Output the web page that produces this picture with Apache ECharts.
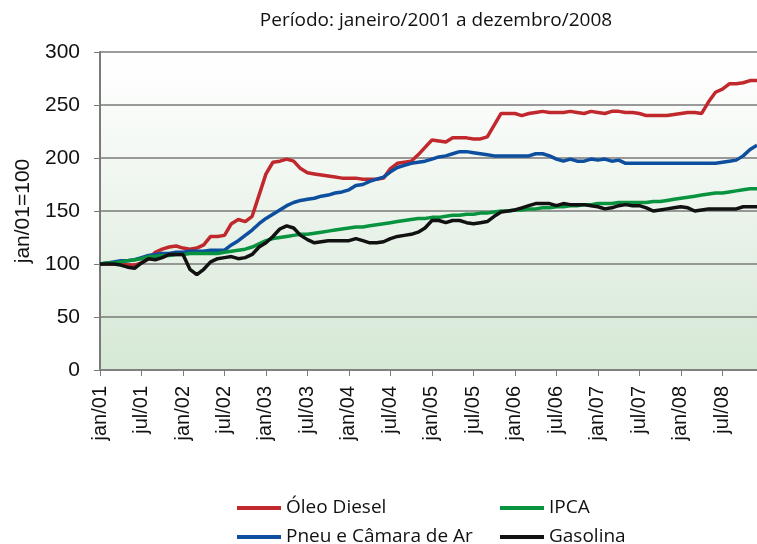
<!DOCTYPE html>
<html>
<head>
<meta charset="utf-8">
<script src="https://cdn.jsdelivr.net/npm/echarts@6/dist/echarts.min.js"></script>
<style>
html,body{margin:0;padding:0;background:#fff;}
#chart{width:757px;height:544px;}
</style>
</head>
<body>
<div id="chart"></div>
<script>
// Monthly categories jan/01 .. dez/08
const monthNames = ['jan','fev','mar','abr','mai','jun','jul','ago','set','out','nov','dez'];
const years = ['01','02','03','04','05','06','07','08'];
const categories = [];
years.forEach(y => monthNames.forEach(m => categories.push(m + '/' + y)));

const titleText = 'Período: janeiro/2001 a dezembro/2008';
const yAxisName = 'jan/01=100';
const seriesNames = ['Óleo Diesel', 'Pneu e Câmara de Ar', 'IPCA', 'Gasolina'];

const oleoDiesel = [
  100,100,100,100,99,99,101,105,111,114,116,117,
  115,114,115,118,126,126,127,138,142,140,145,165,
  185,196,197,199,197,190,186,185,184,183,182,181,
  181,181,180,180,180,181,190,195,196,197,203,210,
  217,216,215,219,219,219,218,218,220,231,242,242,
  242,240,242,243,244,243,243,243,244,243,242,244,
  243,242,244,244,243,243,242,240,240,240,240,241,
  242,243,243,242,253,262,265,270,270,271,273,273
];
const pneuCamara = [
  100,101,102,103,103,104,106,108,109,110,110,111,
  111,112,112,112,113,113,113,118,122,127,132,138,
  143,147,151,155,158,160,161,162,164,165,167,168,
  170,174,175,178,180,182,187,191,193,195,196,197,
  199,201,202,204,206,206,205,204,203,202,202,202,
  202,202,202,204,204,202,199,197,199,197,197,199,
  198,199,197,198,195,195,195,195,195,195,195,195,
  195,195,195,195,195,195,196,197,198,202,208,212
];
const ipca = [
  100,101,101,102,103,104,105,107,107,108,108,109,
  109,110,110,110,110,110,111,112,113,114,116,119,
  122,124,125,126,127,128,128,129,130,131,132,133,
  134,135,135,136,137,138,139,140,141,142,143,143,
  144,144,145,146,146,147,147,148,148,149,150,150,
  151,151,152,152,153,153,154,154,155,155,156,156,
  157,157,157,158,158,158,158,158,159,159,160,161,
  162,163,164,165,166,167,167,168,169,170,171,171
];
const gasolina = [
  100,100,100,99,97,96,101,105,104,106,109,109,
  109,95,90,95,102,105,106,107,105,106,109,116,
  120,126,133,136,134,127,123,120,121,122,122,122,
  122,124,122,120,120,121,124,126,127,128,130,134,
  141,141,139,141,141,139,138,139,140,145,149,150,
  151,153,155,157,157,157,155,157,156,156,156,155,
  154,152,153,155,156,155,155,153,150,151,152,153,
  154,153,150,151,152,152,152,152,152,154,154,154
];
const yTicks = [0, 50, 100, 150, 200, 250, 300];
const colors = ['#c1282d', '#0d4f9e', '#08943f', '#111111'];

const chart = echarts.init(document.getElementById('chart'), null, {renderer: 'canvas'});
const dataSets = [oleoDiesel, pneuCamara, ipca, gasolina];

const legendText = {fontFamily: 'Open Sans', fontSize: 19, color: '#111', lineHeight: 20};

chart.setOption({
  animation: false,
  title: {
    text: titleText,
    left: 431, top: 6, textAlign: 'center',
    textStyle: {fontFamily: 'Open Sans', fontSize: 19, fontWeight: 'normal', color: '#111'}
  },
  legend: [
    {
      orient: 'vertical', left: 237, top: 498, height: 80, padding: 0,
      data: [seriesNames[0], seriesNames[1]],
      icon: 'rect', itemWidth: 44, itemHeight: 4, itemGap: 9, itemStyle: {borderWidth: 0},
      textStyle: legendText
    },
    {
      orient: 'vertical', left: 500, top: 498, height: 80, padding: 0,
      data: [seriesNames[2], seriesNames[3]],
      icon: 'rect', itemWidth: 44, itemHeight: 4, itemGap: 9, itemStyle: {borderWidth: 0},
      textStyle: legendText
    }
  ],
  grid: {
    left: 100, right: 0, top: 52, bottom: 174,
    show: true, borderWidth: 0,
    backgroundColor: new echarts.graphic.LinearGradient(0, 0, 0, 1, [
      {offset: 0, color: '#ffffff'},
      {offset: 0.16, color: '#fafcfa'},
      {offset: 0.45, color: '#eef5ee'},
      {offset: 1, color: '#d5e8d5'}
    ])
  },
  xAxis: {
    type: 'category',
    data: categories,
    boundaryGap: false,
    axisLine: {lineStyle: {color: '#7a7a7a', width: 1.5}},
    axisTick: {show: true, interval: 5, length: 6, lineStyle: {color: '#7a7a7a'}},
    axisLabel: {
      interval: 5, rotate: 90, margin: 16,
      fontFamily: 'Liberation Sans', fontSize: 20, color: '#111'
    },
    splitLine: {show: false}
  },
  yAxis: {
    type: 'value',
    min: yTicks[0], max: yTicks[yTicks.length - 1], interval: 50,
    name: yAxisName, nameLocation: 'middle', nameGap: 65, nameRotate: 90,
    nameTextStyle: {fontFamily: 'Liberation Sans', fontSize: 21, color: '#111'},
    axisLine: {show: true, lineStyle: {color: '#7a7a7a', width: 2}},
    axisTick: {show: true, length: 6, lineStyle: {color: '#7a7a7a'}},
    axisLabel: {margin: 20, fontFamily: 'Liberation Sans', fontSize: 21, color: '#111'},
    splitLine: {show: true, lineStyle: {color: '#7a7a7a', width: 1.5}}
  },
  series: dataSets.map((d, i) => ({
    name: seriesNames[i],
    type: 'line',
    data: d,
    showSymbol: false,
    symbol: 'none',
    smooth: false,
    lineStyle: {color: colors[i], width: 3.5},
    itemStyle: {color: colors[i]}
  }))
});
</script>
</body>
</html>
